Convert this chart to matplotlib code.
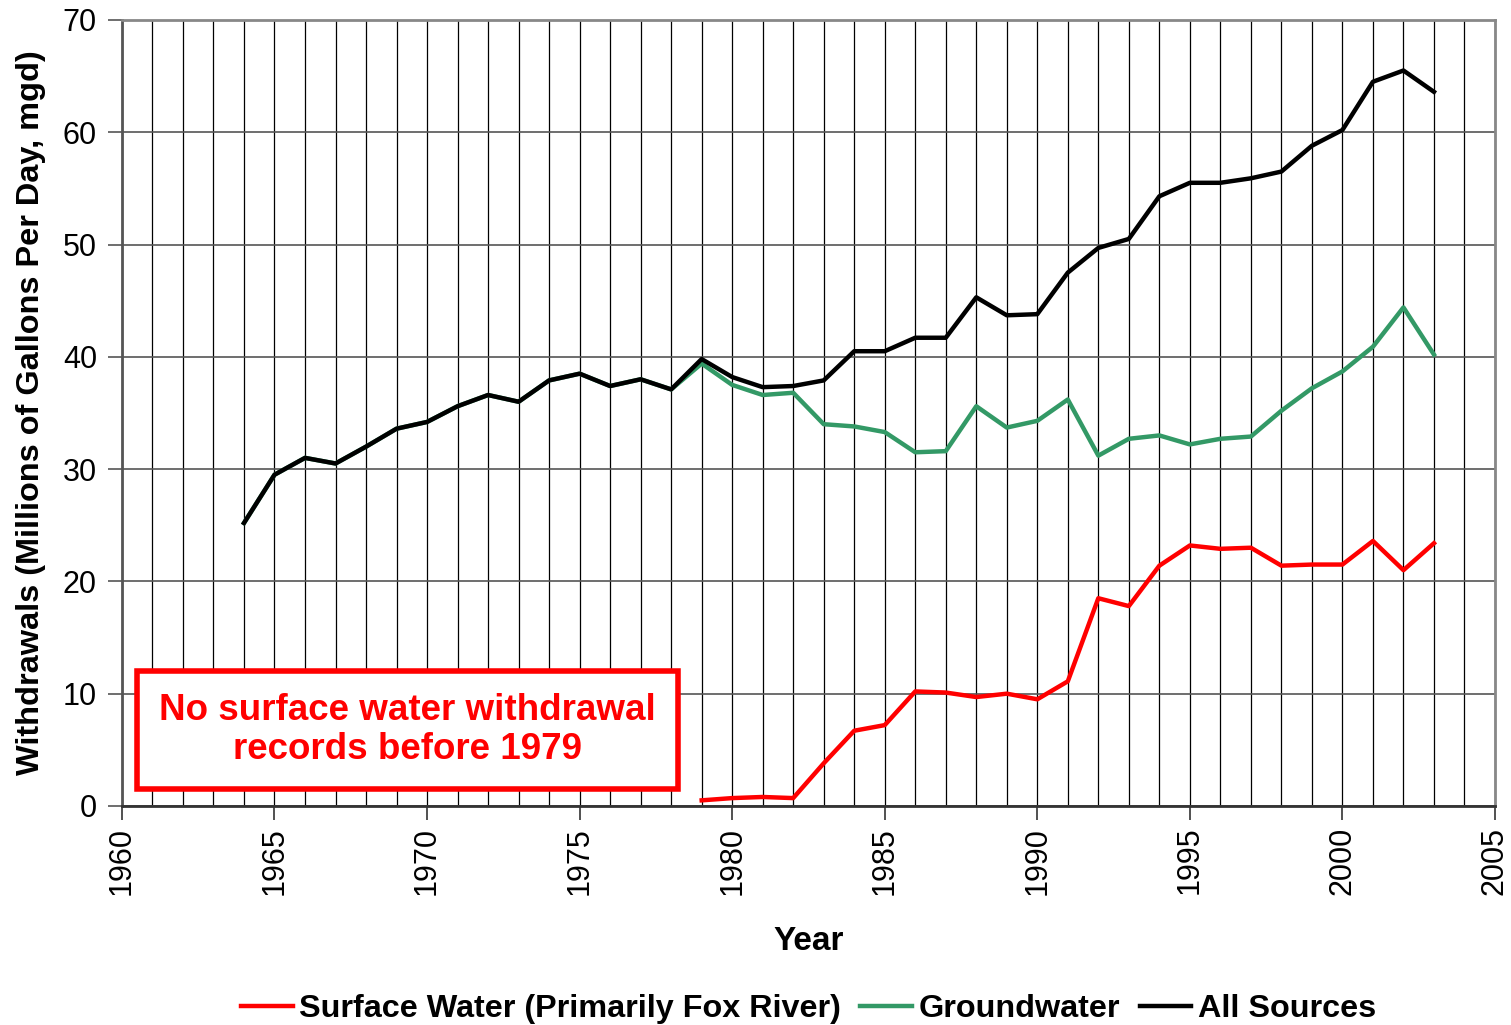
import matplotlib.pyplot as plt
from matplotlib.ticker import MultipleLocator

plt.rcParams["font.family"] = ["Liberation Sans", "DejaVu Sans"]

years = list(range(1964, 2004))

all_sources = [
    25.2, 29.5, 31.0, 30.5, 32.0, 33.6, 34.2, 35.6, 36.6, 36.0,
    37.9, 38.5, 37.4, 38.0, 37.1, 39.8, 38.2, 37.3, 37.4, 37.9,
    40.5, 40.5, 41.7, 41.7, 45.3, 43.7, 43.8, 47.5, 49.7, 50.5,
    54.3, 55.5, 55.5, 55.9, 56.5, 58.8, 60.2, 64.5, 65.5, 63.6,
]

groundwater = [
    25.2, 29.5, 31.0, 30.5, 32.0, 33.6, 34.2, 35.6, 36.6, 36.0,
    37.9, 38.5, 37.4, 38.0, 37.1, 39.4, 37.5, 36.6, 36.8, 34.0,
    33.8, 33.3, 31.5, 31.6, 35.6, 33.7, 34.3, 36.2, 31.2, 32.7,
    33.0, 32.2, 32.7, 32.9, 35.2, 37.2, 38.7, 40.9, 44.4, 40.2,
]

surface_years = list(range(1979, 2004))
surface_water = [
    0.5, 0.7, 0.8, 0.7, 3.8, 6.7, 7.2, 10.2, 10.1, 9.7,
    10.0, 9.5, 11.1, 18.5, 17.8, 21.4, 23.2, 22.9, 23.0, 21.4,
    21.5, 21.5, 23.6, 21.0, 23.4,
]

figure, axis = plt.subplots(figsize=(15.11, 10.25), dpi=100)
figure.subplots_adjust(left=0.0807, right=0.9894, top=0.9805, bottom=0.2137)

axis.plot(surface_years, surface_water, color="#ff0000", lw=3.2,
          label="Surface Water (Primarily Fox River)", zorder=3)
axis.plot(years, groundwater, color="#339966", lw=3.2,
          label="Groundwater", zorder=4)
axis.plot(years, all_sources, color="#000000", lw=3.2,
          label="All Sources", zorder=5)

axis.set_xlim(1960, 2005)
axis.set_ylim(0, 70)

axis.xaxis.set_major_locator(MultipleLocator(5))
axis.xaxis.set_minor_locator(MultipleLocator(1))
axis.yaxis.set_major_locator(MultipleLocator(10))

axis.grid(which="major", axis="y", color="#555555", lw=1.2)
axis.grid(which="both", axis="x", color="#000000", lw=0.9)

axis.tick_params(axis="x", which="major", length=10, width=1.2,
                 labelsize=22, labelrotation=90, direction="out",
                 color="#333333", pad=5)
axis.tick_params(axis="x", which="minor", length=0)
axis.tick_params(axis="y", which="major", length=10, width=1.2,
                 labelsize=22, color="#555555", pad=8)

for side in ["top", "right"]:
    axis.spines[side].set_color("#888888")
    axis.spines[side].set_linewidth(2)
axis.spines["left"].set_color("#555555")
axis.spines["left"].set_linewidth(2)
axis.spines["bottom"].set_color("#333333")
axis.spines["bottom"].set_linewidth(2)

axis.set_xlabel("Year", fontsize=24, fontweight="bold", labelpad=22)
axis.set_ylabel("Withdrawals (Millions of Gallons Per Day, mgd)",
                fontsize=23.4, fontweight="bold", labelpad=12)

axis.text(
    1969.37, 6.75,
    "No surface water withdrawal\nrecords before 1979",
    color="#ff0000", fontsize=26.5, fontweight="bold",
    ha="center", va="center", linespacing=1.15, zorder=6,
    bbox=dict(boxstyle="square,pad=0.6", facecolor="white",
              edgecolor="#ff0000", linewidth=4),
)

axis.legend(
    loc="lower center", bbox_to_anchor=(0.5, -0.315), ncol=3,
    frameon=False, prop={"size": 23.3, "weight": "bold"},
    handlelength=1.6, handletextpad=0.2, columnspacing=0.6,
)

figure.savefig("out.png", dpi=100)
